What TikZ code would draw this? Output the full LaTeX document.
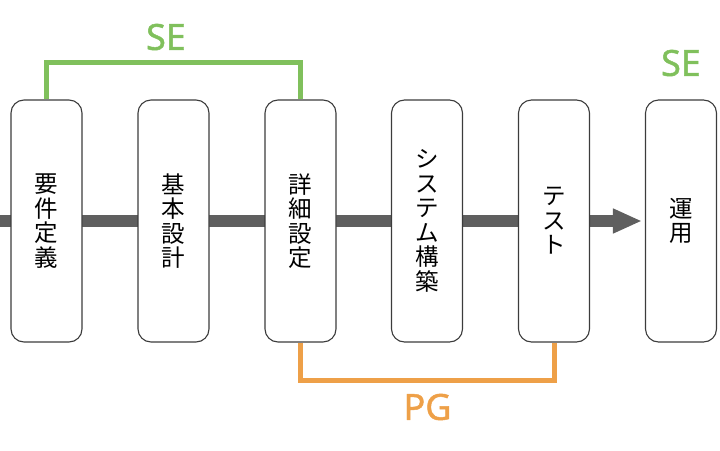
\documentclass[tikz,border=0pt]{standalone}
\usepackage{fontspec}
\setmainfont{Noto Sans}
\newfontfamily\cjk{Noto Sans CJK JP}
\newfontfamily\rolefont[FakeBold=1.3]{Noto Sans}
\usetikzlibrary{arrows.meta,backgrounds}
\definecolor{segreen}{RGB}{128,192,92}
\definecolor{pgorange}{RGB}{238,160,72}
\definecolor{flowgray}{RGB}{95,95,95}
\definecolor{boxline}{RGB}{60,60,60}
\tikzset{
  phase/.style={draw=boxline, line width=1.1pt, fill=white, rounded corners=13pt,
    minimum width=71pt, minimum height=242pt, inner sep=0pt, align=center,
    font=\cjk\fontsize{23.5}{24.5}\selectfont},
  role/.style={font=\rolefont\fontsize{36}{36}\selectfont, inner sep=0pt},
  bracket/.style={line width=5pt}
}
\begin{document}
\begin{tikzpicture}[x=1pt,y=-1pt]
\useasboundingbox (0,0) rectangle (720,450);
\node[phase] (b1) at (46.5,221) {要\\件\\定\\義};
\node[phase] (b2) at (173.5,221) {基\\本\\設\\計};
\node[phase] (b3) at (300.5,221) {詳\\細\\設\\定};
\node[phase] (b4) at (427,221) {シ\\ス\\テ\\ム\\構\\築};
\node[phase] (b5) at (554,221) {テ\\ス\\ト};
\node[phase] (b6) at (681,221) {運\\用};
\coordinate (start) at (0,221);
\begin{scope}[on background layer]
\draw[flowgray, line width=12pt, -{Triangle[length=29pt,width=23pt]}, shorten >=3pt] (start) -- (b6.west);
\end{scope}
\draw[segreen, bracket] (b1.north) -- ++(0,-37) -| (b3.north);
\draw[pgorange, bracket] (b3.south) -- ++(0,38) -| (b5.south);
\node[role, text=segreen] (se1) at (166,37) {SE};
\node[role, text=segreen] (se2) at (681,63) {SE};
\node[role, text=pgorange] (pg) at (427.5,407) {PG};
\end{tikzpicture}
\end{document}
